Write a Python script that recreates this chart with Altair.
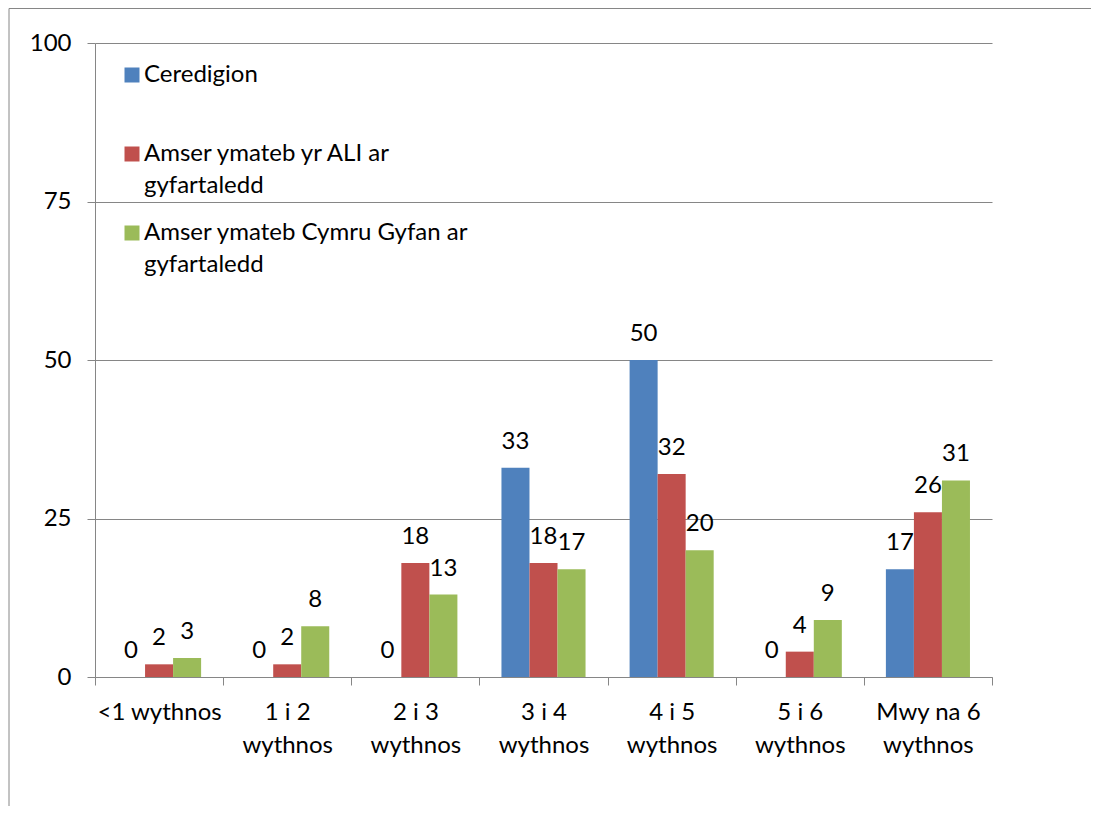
import altair as alt
import pandas as pd

categories = ["<1 wythnos", "1 i 2|wythnos", "2 i 3|wythnos", "3 i 4|wythnos",
              "4 i 5|wythnos", "5 i 6|wythnos", "Mwy na 6|wythnos"]
series_names = ["Ceredigion", "Amser ymateb yr ALI ar|gyfartaledd",
                "Amser ymateb Cymru Gyfan ar|gyfartaledd"]
ceredigion = [0, 0, 0, 33, 50, 0, 17]
ali = [2, 2, 18, 18, 32, 4, 26]
cymru = [3, 8, 13, 17, 20, 9, 31]
colors = ["#4F81BD", "#C0504D", "#9BBB59"]

rows = []
for s, vals in zip(series_names, [ceredigion, ali, cymru]):
    for c, v in zip(categories, vals):
        rows.append({"cat": c, "series": s, "value": v})
df = pd.DataFrame(rows)

FONT = "Lato"
FS = 24

x = alt.X("cat:N", sort=categories, title=None,
          scale=alt.Scale(paddingInner=0, paddingOuter=0),
          axis=alt.Axis(labelExpr="split(datum.label, '|')", labelAngle=0,
                        labelFontSize=FS, labelColor="black", labelFont=FONT,
                        labelLineHeight=33, labelPadding=15, labelBaseline="top",
                        domainColor="#868686", tickColor="#868686", tickSize=8,
                        tickBand="extent", grid=False, labelLimit=300))
xoff = alt.XOffset("series:N", sort=series_names,
                   scale=alt.Scale(paddingInner=0, paddingOuter=0.786))
y = alt.Y("value:Q", title=None,
          scale=alt.Scale(domain=[0, 100], nice=False),
          axis=alt.Axis(values=[0, 25, 50, 75, 100], labelFontSize=FS,
                        labelColor="black", labelFont=FONT, tickSize=8,
                        labelPadding=16, domainColor="#868686",
                        tickColor="#868686", gridColor="#868686",
                        gridWidth=1))

bars = alt.Chart(df).mark_bar().encode(
    x=x, xOffset=xoff, y=y,
    color=alt.Color("series:N", sort=series_names,
                    scale=alt.Scale(domain=series_names, range=colors),
                    legend=alt.Legend(title=None, orient="none", legendX=25,
                                      legendY=20, symbolType="square",
                                      symbolSize=225, symbolStrokeWidth=0,
                                      labelFontSize=FS, labelFont=FONT,
                                      labelColor="black",
                                      labelExpr="indexof(datum.label, '|') < 0 ? [datum.label, ' '] : split(datum.label, '|')",
                                      labelLimit=400, rowPadding=23,
                                      labelOffset=0, labelBaseline="middle")),
)

labels = alt.Chart(df).mark_text(fontSize=FS, font=FONT, dy=-19,
                                 baseline="alphabetic", color="black").encode(
    x=alt.X("cat:N", sort=categories), xOffset=xoff,
    y=alt.Y("value:Q"), text=alt.Text("value:Q"))

border = alt.Chart(alt.Data(values=[{}])).mark_rect(
    fill=None, stroke="#868686", strokeWidth=1, clip=False).encode(
    x=alt.value(-86), y=alt.value(-34.5), x2=alt.value(1200), y2=alt.value(900))

chart = alt.layer(border, bars, labels).properties(
    width=897, height=634,
    autosize=alt.AutoSizeParams(type="none"),
    padding={"left": 87, "top": 35, "right": 99, "bottom": 129},
).configure(view=alt.ViewConfig(stroke=None),
            style={"guide-label": {"lineHeight": 32}})

chart.save("out.html", embed_options={"renderer": "svg", "actions": False})
